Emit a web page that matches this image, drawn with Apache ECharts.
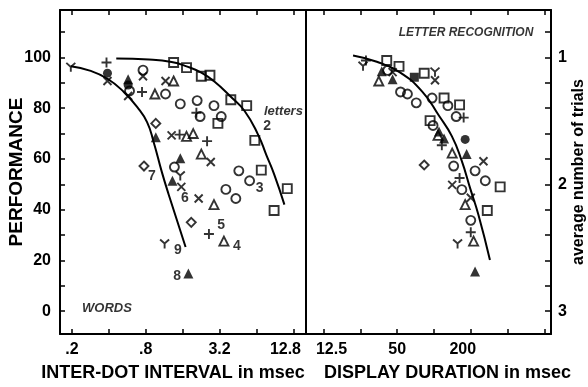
<!DOCTYPE html>
<html>
<head>
<meta charset="utf-8">
<script src="https://cdn.jsdelivr.net/npm/echarts@6.0.0/dist/echarts.min.js"></script>
<style>
html, body {margin: 0; padding: 0; background: #fff;}
#chart {width: 588px; height: 387px;}
</style>
</head>
<body>
<div id="chart"></div>
<script>
const FONT = 'Liberation Sans';

// x in msec, y in percent correct
// left panel: inter-dot interval
const dotSquares = [[1.35, 98], [1.72, 96], [2.27, 92.6], [2.67, 93], [3.95, 83.3], [5.32, 81], [6.2, 67.3], [7.0, 55.6], [11.4, 48.3], [8.9, 39.7], [3.1, 74]];
const dotCircles = [[0.76, 95], [0.59, 86.8], [1.16, 85.6], [1.53, 81.7], [2.1, 83], [2.88, 81], [3.3, 76.7], [2.22, 76.7], [1.37, 56.8], [4.59, 55.3], [5.62, 51.4], [3.6, 48], [4.34, 44.4]];
const dotTriangles = [[0.95, 85.6], [1.35, 90.7], [1.72, 68.9], [1.95, 70], [2.27, 61.9], [2.88, 42], [3.47, 27.6]];
const dotCrosses = [[0.39, 90.7], [0.575, 84.8], [0.76, 92.6], [1.16, 90.7], [1.3, 69.3], [2.71, 58.8], [1.56, 49], [2.16, 44.4]];
const dotPlus = [[0.383, 98], [0.746, 86.4], [1.51, 69.6], [2.07, 78.2], [2.53, 67], [2.62, 30.4]];
const dotDiamonds = [[0.966, 74], [0.774, 57.2], [1.88, 35]];
const dotYs = [[0.196, 96.1], [1.53, 53.3], [1.14, 26.5]];
const dotSolidTri = [[0.575, 91.4], [0.966, 68.5], [1.53, 60.3], [1.32, 51.4], [1.78, 14.8]];
const dotSolidDots = [[0.39, 93.8], [0.575, 89.1]];

const wordsCurve = [[0.196, 96.5], [0.28, 94.8], [0.39, 91.6], [0.53, 86.4], [0.68, 80.5], [0.82, 74.5], [0.93, 66.5], [1.08, 55], [1.23, 46], [1.69, 25.3]];
const lettersCurve = [[0.46, 99.6], [0.85, 99.2], [1.3, 98.2], [1.72, 96.5], [2.27, 94], [2.9, 90.5], [3.95, 84.5], [5.1, 79], [6.6, 69.5], [7.7, 61.5], [8.9, 54], [10.8, 42]];

// right panel: display duration
const durSquares = [[41.1, 98.8], [51.8, 96.5], [83.2, 93.8], [121, 84], [162, 81.3], [93, 75.1], [348, 49], [273, 39.7]];
const durSolidSquares = [[69.1, 92.2]];
const durCircles = [[41.8, 94.9], [53.3, 86.4], [60.7, 85.6], [71.7, 82.1], [96.5, 84], [130, 81], [152, 76.7], [98.3, 73.2], [145, 57.2], [263, 51.4], [169, 47.9], [200, 35.8], [217, 55.3]];
const durTriangles = [[35.4, 90.7], [108, 69.3], [141, 62.3], [180, 42], [211, 27.6]];
const durSolidTri = [[37.4, 94.6], [45.9, 91.4], [110, 70.8], [121, 68.1], [185, 61.9], [217, 15.6]];
const durCrosses = [[45.9, 94.2], [102, 91], [254, 59.1], [141, 49.8], [200, 44.7]];
const durPlus = [[27.8, 98.8], [175, 76.3], [116, 65.4], [162, 52.5], [200, 31.1]];
const durYs = [[26.3, 96.5], [102, 94.2], [156, 26.5]];
const durDiamonds = [[83.2, 57.6]];
const durSolidDots = [[180, 67.7]];

const durCurve = [[21.8, 100.8], [34.1, 98.3], [52.3, 94.2], [80.2, 86.5], [110, 77], [140, 69], [168, 59.5], [199, 48], [231, 38], [287, 20.2]];

// tick labels (rich style name picks a small nudge off the tick)
const dotTickValues = [0.2, 0.8, 3.2, 12.8];
const dotTickLabels = ['.2', '.8', '3.2', '{l|12.8}'];
const durTickValues = [12.5, 50, 200];
const durTickLabels = ['{r|12.5}', '50', '{l|200}'];
const perfTicks = [0, 20, 40, 60, 80, 100];
const trialTickValues = [100, 50, 0];
const trialTickLabels = ['1', '2', '3'];

// text in the plot: [text, msec, percent]
const subjectNums = [['7', 0.9, 53.3], ['6', 1.67, 44.4], ['9', 1.46, 24.1], ['8', 1.44, 14], ['5', 3.29, 33.9], ['4', 4.43, 25.7], ['3', 6.8, 48.6], ['2', 7.8, 72.8]];
const dotNotes = [['WORDS', 0.386, 1.2], ['letters', 10.6, 78.6]];
const durNotes = [['LETTER RECOGNITION', 183, 109.7]];

// log2 axes tick at every doubling from these units
const DOT_UNIT = 0.2;
const DUR_UNIT = 12.5;

const SYM = {
    square: 'rect',
    circle: 'circle',
    triangle: 'triangle',
    diamond: 'diamond',
    cross: 'path://M0,0L10,10M10,0L0,10',
    plus: 'path://M5,0L5,10M0,5L10,5',
    ypsilon: 'path://M0,0L5,5L10,0M5,5L5,11'
};

const pick = (values, labels, unit) => v => {
    const i = values.findIndex(t => Math.abs(t - v * unit) < 1e-6 * t + 1e-9);
    return i < 0 ? '' : labels[i];
};

const tickLabel = {
    color: '#000', fontFamily: FONT, fontWeight: 'bold', fontSize: 16,
    rich: {
        l: {fontFamily: FONT, fontWeight: 'bold', fontSize: 16, padding: [0, 16, 0, 0]},
        r: {fontFamily: FONT, fontWeight: 'bold', fontSize: 16, padding: [0, 0, 0, 16]}
    }
};
const nameStyle = {color: '#000', fontFamily: FONT, fontWeight: 'bold', fontSize: 18};
const line = {show: true, onZero: false, lineStyle: {color: '#000', width: 2}};
const tick = {show: true, inside: true, length: 5, lineStyle: {color: '#000', width: 1.5}};

function xAxis(grid, top, min, max, values, labels, unit, name, pad) {
    return {
        type: 'log', logBase: 2, gridIndex: grid, min: min, max: max,
        position: top ? 'top' : 'bottom',
        axisLine: line, axisTick: tick, splitLine: {show: false},
        axisLabel: top ? {show: false} : Object.assign({margin: 8, formatter: pick(values, labels, unit), showMinLabel: false, showMaxLabel: false}, tickLabel),
        name: top ? '' : name, nameLocation: 'middle', nameGap: 30,
        nameTextStyle: Object.assign({padding: pad}, nameStyle)
    };
}

function yAxis(grid, right, opts) {
    return Object.assign({
        type: 'value', gridIndex: grid, min: -9, max: 118.7, splitNumber: 12,
        position: right ? 'right' : 'left',
        axisLine: line, axisTick: {show: false}, axisLabel: {show: false},
        splitLine: {show: false}
    }, opts);
}

function marks(data, unit, grid, symbol, filled, size) {
    return {
        type: 'scatter', xAxisIndex: grid * 2, yAxisIndex: grid * 2,
        symbol: symbol, symbolSize: size || 9, silent: true, z: 3,
        data: data.map(d => [d[0] / unit, d[1]]),
        itemStyle: filled ? {color: '#000'} : {color: 'rgba(0,0,0,0)', borderColor: '#000', borderWidth: 1.9}
    };
}

function curve(data, unit, grid) {
    return {
        type: 'line', xAxisIndex: grid * 2, yAxisIndex: grid * 2, smooth: true,
        symbol: 'none', silent: true, z: 2,
        data: data.map(d => [d[0] / unit, d[1]]),
        lineStyle: {color: '#000', width: 2}
    };
}

function notes(list, unit, grid, size, italic) {
    return {
        type: 'scatter', xAxisIndex: grid * 2, yAxisIndex: grid * 2,
        symbolSize: 1, silent: true, z: 4,
        itemStyle: {color: 'rgba(0,0,0,0)'},
        data: list.map(n => ({name: n[0], value: [n[1] / unit, n[2]]})),
        label: {
            show: true, position: 'inside', formatter: p => p.name,
            color: '#000', fontFamily: FONT, fontWeight: 'bold',
            fontStyle: italic ? 'italic' : 'normal', fontSize: size
        }
    };
}

const chart = echarts.init(document.getElementById('chart'), null, {renderer: 'canvas'});

chart.setOption({
    animation: false,
    backgroundColor: '#fff',
    grid: [
        {left: 60, right: 282, top: 10, bottom: 49},
        {left: 306, right: 36, top: 10, bottom: 49}
    ],
    xAxis: [
        xAxis(0, false, 0.8, 81, dotTickValues, dotTickLabels, DOT_UNIT, 'INTER-DOT INTERVAL in msec', [0, 20, 0, 0]),
        xAxis(0, true, 0.8, 81),
        xAxis(1, false, 0.719, 72.5, durTickValues, durTickLabels, DUR_UNIT, 'DISPLAY DURATION in msec', [0, 0, 0, 38]),
        xAxis(1, true, 0.719, 72.5)
    ],
    yAxis: [
        yAxis(0, false, {
            axisTick: tick,
            axisLabel: Object.assign({margin: 9, showMinLabel: false, showMaxLabel: false,
                formatter: v => perfTicks.indexOf(v) >= 0 ? String(v) : ''}, tickLabel),
            name: 'PERFORMANCE', nameLocation: 'middle', nameRotate: 90, nameGap: 34,
            nameMoveOverlap: false,
            nameTextStyle: Object.assign({}, nameStyle, {fontSize: 19})
        }),
        yAxis(0, true),
        yAxis(1, false, {axisLine: {show: false}}),
        yAxis(1, true, {
            axisTick: Object.assign({}, tick, {length: 6}),
            axisLabel: Object.assign({margin: 7, showMinLabel: false, showMaxLabel: false,
                formatter: pick(trialTickValues, trialTickLabels, 1)}, tickLabel),
            name: 'average number of trials', nameLocation: 'middle', nameRotate: 90, nameGap: 20,
            nameTextStyle: Object.assign({}, nameStyle, {fontSize: 16})
        })
    ],
    series: [
        curve(wordsCurve, DOT_UNIT, 0),
        curve(lettersCurve, DOT_UNIT, 0),
        marks(dotSquares, DOT_UNIT, 0, SYM.square, false, 9),
        marks(dotCircles, DOT_UNIT, 0, SYM.circle, false, 9),
        marks(dotTriangles, DOT_UNIT, 0, SYM.triangle, false, 9),
        marks(dotCrosses, DOT_UNIT, 0, SYM.cross, false, 8),
        marks(dotPlus, DOT_UNIT, 0, SYM.plus, false, 10),
        marks(dotDiamonds, DOT_UNIT, 0, SYM.diamond, false, 9),
        marks(dotYs, DOT_UNIT, 0, SYM.ypsilon, false, 9),
        marks(dotSolidTri, DOT_UNIT, 0, SYM.triangle, true, 10),
        marks(dotSolidDots, DOT_UNIT, 0, SYM.circle, true, 9),
        notes(subjectNums, DOT_UNIT, 0, 14, false),
        notes(dotNotes, DOT_UNIT, 0, 13, true),

        curve(durCurve, DUR_UNIT, 1),
        marks(durSquares, DUR_UNIT, 1, SYM.square, false, 9),
        marks(durSolidSquares, DUR_UNIT, 1, SYM.square, true, 9),
        marks(durCircles, DUR_UNIT, 1, SYM.circle, false, 9),
        marks(durTriangles, DUR_UNIT, 1, SYM.triangle, false, 9),
        marks(durSolidTri, DUR_UNIT, 1, SYM.triangle, true, 10),
        marks(durCrosses, DUR_UNIT, 1, SYM.cross, false, 8),
        marks(durPlus, DUR_UNIT, 1, SYM.plus, false, 10),
        marks(durYs, DUR_UNIT, 1, SYM.ypsilon, false, 9),
        marks(durDiamonds, DUR_UNIT, 1, SYM.diamond, false, 9),
        marks(durSolidDots, DUR_UNIT, 1, SYM.circle, true, 9),
        notes(durNotes, DUR_UNIT, 1, 12, true)
    ]
});
</script>
</body>
</html>
